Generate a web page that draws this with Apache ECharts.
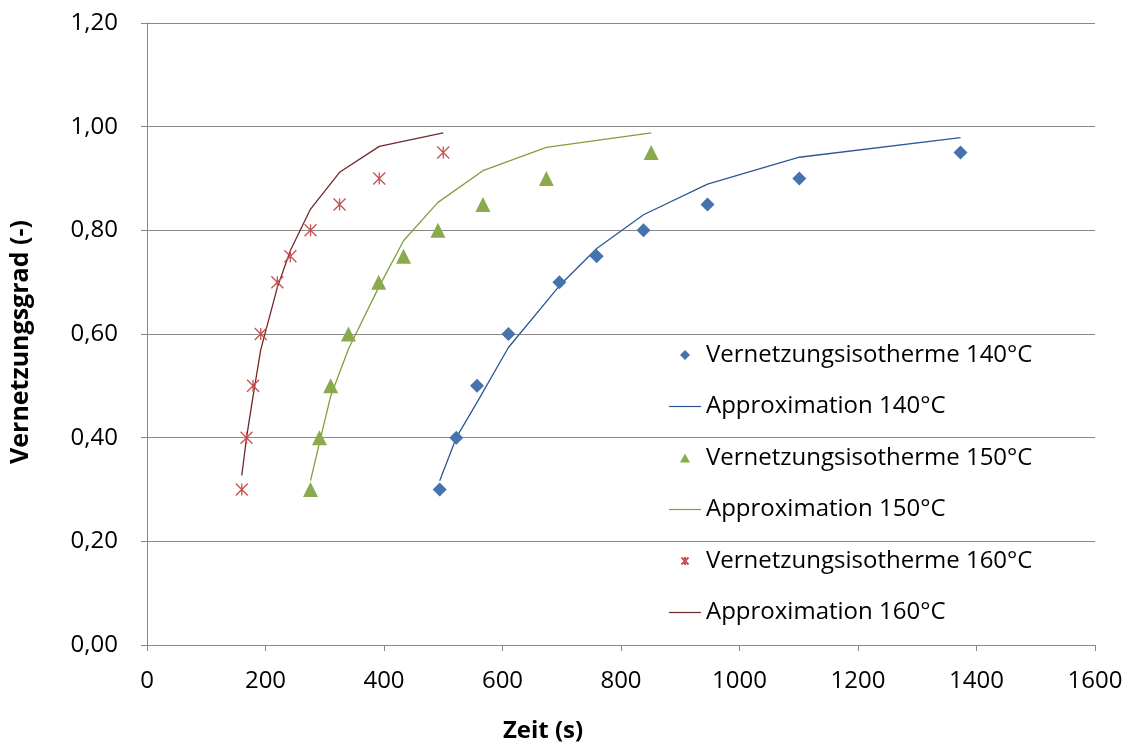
<!DOCTYPE html>
<html>
<head>
<meta charset="utf-8">
<script src="https://cdn.jsdelivr.net/npm/echarts@6/dist/echarts.min.js"></script>
<style>
  html, body { margin: 0; padding: 0; background: #fff; }
  #chart { width: 1132px; height: 745px; }
</style>
</head>
<body>
<div id="chart"></div>
<script>
// measured times (s) and degree of cure
const t140 = [494, 522, 557, 610, 696, 759, 838, 946, 1101, 1373]
const v140 = [0.30, 0.40, 0.50, 0.60, 0.70, 0.75, 0.80, 0.85, 0.90, 0.95]
const a140 = [0.317, 0.40, 0.468, 0.574, 0.693, 0.765, 0.83, 0.889, 0.941, 0.979]

const t150 = [276, 291, 310, 340, 391, 433, 491, 567, 674, 851]
const v150 = [0.30, 0.40, 0.50, 0.60, 0.70, 0.75, 0.80, 0.85, 0.90, 0.95]
const a150 = [0.317, 0.39, 0.48, 0.571, 0.69, 0.78, 0.854, 0.915, 0.96, 0.988]

const t160 = [160, 168, 179, 192, 220, 242, 276, 325, 392, 500]
const v160 = [0.30, 0.40, 0.50, 0.60, 0.70, 0.75, 0.80, 0.85, 0.90, 0.95]
const a160 = [0.327, 0.40, 0.48, 0.57, 0.69, 0.761, 0.841, 0.912, 0.962, 0.988]

const names = [
    'Vernetzungsisotherme 140°C', 'Approximation 140°C',
    'Vernetzungsisotherme 150°C', 'Approximation 150°C',
    'Vernetzungsisotherme 160°C', 'Approximation 160°C'
]

const zip = (xs, ys) => xs.map((x, i) => [x, ys[i]])

const chart = echarts.init(document.getElementById('chart'))
const font = '"Open Sans", "Noto Sans", sans-serif'
const star = 'path://M0,0 L10,10 M10,0 L0,10 M5,0 L5,10'

// legend icons: corner points keep the 32x12 box so nothing gets stretched
const iconLine = 'path://M0,0 L0,0 M0,5.4 L32,5.4 L32,6.6 L0,6.6 Z M32,12 L32,12'
const iconDiamond = 'path://M0,0 L0,0 M16,1 L21,6 L16,11 L11,6 Z M32,12 L32,12'
const iconTriangle = 'path://M0,0 L0,0 M16,1.5 L21,10.5 L11,10.5 Z M32,12 L32,12'
const iconStar = 'path://M0,0 L0,0 M12.5,2.5 L19.5,9.5 M19.5,2.5 L12.5,9.5 M16,2 L16,10 M32,12 L32,12'
const icons = [iconDiamond, iconLine, iconTriangle, iconLine, iconStar, iconLine]

const scatter = (name, data, symbol, size, color, extra) => ({
    name: name,
    type: 'scatter',
    data: data,
    symbol: symbol,
    symbolSize: size,
    itemStyle: Object.assign({ color: color, opacity: 1 }, extra || {}),
    z: 3
})
const approx = (name, data, color) => ({
    name: name,
    type: 'line',
    data: data,
    symbol: 'none',
    showSymbol: false,
    lineStyle: { color: color, width: 1.3 },
    itemStyle: { color: color },
    z: 2
})

chart.setOption({
    animation: false,
    grid: { left: 147, right: 37, top: 23, bottom: 100, outerBoundsMode: 'none' },
    xAxis: {
        type: 'value',
        min: 0, max: 1600, interval: 200,
        name: 'Zeit (s)',
        nameLocation: 'middle',
        nameGap: 74,
        nameTextStyle: {
            fontFamily: font, fontSize: 24, fontWeight: 'bold', color: '#000',
            padding: [0, 156, 0, 0]
        },
        axisLine: { show: true, lineStyle: { color: '#888', width: 1 } },
        axisTick: { show: true, length: 6, lineStyle: { color: '#888' } },
        axisLabel: { fontFamily: font, fontSize: 24, color: '#000', margin: 24, formatter: v => String(v) },
        splitLine: { show: false }
    },
    yAxis: {
        type: 'value',
        min: 0, max: 1.2, interval: 0.2,
        name: 'Vernetzungsgrad (-)',
        nameLocation: 'middle',
        nameGap: 114,
        nameTextStyle: {
            fontFamily: font, fontSize: 25, fontWeight: 'bold', color: '#000',
            padding: [0, 16, 0, 0]
        },
        axisLine: { show: true, lineStyle: { color: '#888', width: 1 } },
        axisTick: { show: true, length: 6, lineStyle: { color: '#888' } },
        axisLabel: {
            fontFamily: font, fontSize: 24, color: '#000', margin: 29,
            formatter: v => v.toFixed(2).replace('.', ',')
        },
        splitLine: { show: true, lineStyle: { color: '#888', width: 1 } }
    },
    legend: {
        orient: 'vertical',
        left: 663,
        top: 338,
        itemWidth: 32,
        itemHeight: 12,
        itemGap: 27.5,
        symbolKeepAspect: false,
        data: names.map((n, i) => ({ name: n, icon: icons[i] })),
        textStyle: { fontFamily: font, fontSize: 24, color: '#000', lineHeight: 24 }
    },
    series: [
        scatter(names[0], zip(t140, v140), 'diamond', 14, '#4573AD'),
        approx(names[1], zip(t140, a140), '#2C5895'),
        scatter(names[2], zip(t150, v150), 'triangle', 15, '#8BAA4C'),
        approx(names[3], zip(t150, a150), '#7F9F3F'),
        scatter(names[4], zip(t160, v160), star, 12, 'rgba(0,0,0,0)', { borderColor: '#C9504E', borderWidth: 1.3 }),
        approx(names[5], zip(t160, a160), '#6E2A2A')
    ]
})
</script>
</body>
</html>
